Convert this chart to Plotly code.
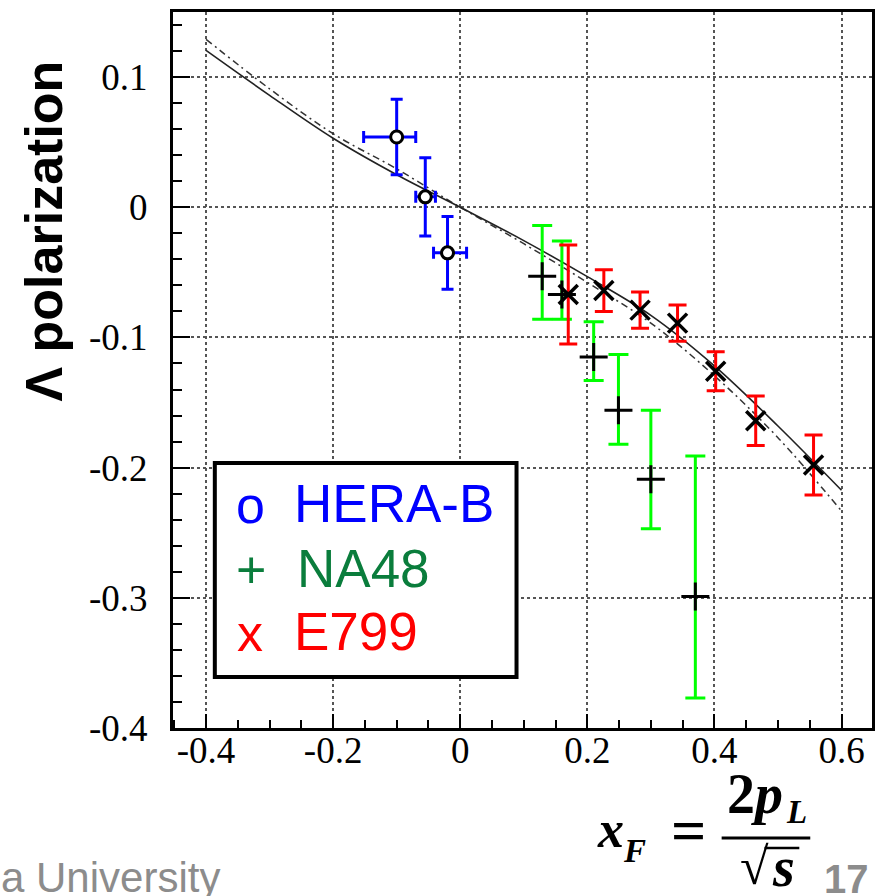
import plotly.graph_objects as go

# HERA-B points (open circles, blue error bars)
hb_x = [-0.100, -0.055, -0.020]
hb_y = [0.054, 0.008, -0.035]
hb_ex_plus = [0.030, 0.016, 0.030]
hb_ex_minus = [0.052, 0.015, 0.022]
hb_ey = [0.029, 0.030, 0.028]

# NA48 points (black +, green error bars)
na_x = [0.129, 0.160, 0.210, 0.249, 0.300, 0.370]
na_y = [-0.053, -0.067, -0.115, -0.156, -0.209, -0.299]
na_ey_plus = [0.039, 0.041, 0.027, 0.043, 0.053, 0.108]
na_ey_minus = [0.033, 0.019, 0.018, 0.026, 0.038, 0.078]

# E799 points (black x, red error bars)
e_x = [0.170, 0.226, 0.283, 0.342, 0.402, 0.465, 0.556]
e_y = [-0.067, -0.064, -0.079, -0.089, -0.126, -0.164, -0.198]
e_ey = [0.038, 0.016, 0.014, 0.014, 0.015, 0.019, 0.023]

# Model curves
curve_x = [-0.4, -0.3, -0.2, -0.1, 0.0, 0.1, 0.2, 0.3, 0.4, 0.5, 0.6]
solid_y = [0.1205, 0.086, 0.053, 0.025, 0.0, -0.0256, -0.0533, -0.083, -0.1218, -0.168, -0.2174]
dashdot_y = [0.129, 0.091, 0.0565, 0.0295, 0.0, -0.028, -0.0577, -0.089, -0.1294, -0.177, -0.2333]

# Axis ticks
x_tickvals = [-0.4, -0.2, 0.0, 0.2, 0.4, 0.6]
x_ticktext = ["-0.4", "-0.2", "0", "0.2", "0.4", "0.6"]
y_tickvals = [-0.4, -0.3, -0.2, -0.1, 0.0, 0.1]
y_ticktext = ["-0.4", "-0.3", "-0.2", "-0.1", "0", "0.1"]

W, H = 877, 896
ML, MR, MT, MB = 173, 2, 12, 168
PW, PH = W - ML - MR, H - MT - MB


def px(xp):
    return (xp - ML) / PW


def py(yp):
    return (H - MB - yp) / PH


fig = go.Figure()

fig.add_trace(go.Scatter(
    x=curve_x, y=dashdot_y, mode="lines", line_shape="spline",
    line=dict(color="#333333", width=1.5, dash="7px,4px,2px,4px"),
    hoverinfo="skip"))
fig.add_trace(go.Scatter(
    x=curve_x, y=solid_y, mode="lines", line_shape="spline",
    line=dict(color="#222222", width=1.6), hoverinfo="skip"))

fig.add_trace(go.Scatter(
    x=na_x, y=na_y, mode="markers",
    marker=dict(symbol="cross-thin", size=20, line=dict(color="black", width=3)),
    error_y=dict(type="data", symmetric=False, array=na_ey_plus, arrayminus=na_ey_minus,
                 color="#00ff00", thickness=3, width=10)))

fig.add_trace(go.Scatter(
    x=e_x, y=e_y, mode="markers",
    marker=dict(symbol="x-thin", size=19, line=dict(color="black", width=3.5)),
    error_y=dict(type="data", array=e_ey, color="#ff0000", thickness=3, width=9)))

fig.add_trace(go.Scatter(
    x=hb_x, y=hb_y, mode="markers",
    marker=dict(symbol="circle", size=12, color="white", line=dict(color="black", width=3)),
    error_y=dict(type="data", array=hb_ey, color="#0000ff", thickness=3, width=6),
    error_x=dict(type="data", symmetric=False, array=hb_ex_plus, arrayminus=hb_ex_minus,
                 color="#0000ff", thickness=3, width=6)))

axis_font = dict(family="Liberation Serif", size=37, color="black")

fig.update_xaxes(
    range=[-0.452, 0.648], tickvals=x_tickvals, ticktext=x_ticktext,
    showline=True, linecolor="black", linewidth=3, mirror=True,
    ticks="inside", ticklen=14, tickwidth=1.5, tickcolor="black",
    minor=dict(dtick=0.05, tick0=0, ticks="inside", ticklen=8, tickwidth=1.5,
               tickcolor="black", showgrid=False),
    showgrid=True, gridcolor="#555555", gridwidth=1.5, griddash="dot",
    zeroline=False, tickfont=axis_font, ticklabelstandoff=-12)

fig.update_yaxes(
    range=[-0.4, 0.15], tickvals=y_tickvals, ticktext=y_ticktext,
    showline=True, linecolor="black", linewidth=3, mirror=True,
    ticks="inside", ticklen=17, tickwidth=1.5, tickcolor="black",
    minor=dict(dtick=0.02, tick0=0, ticks="inside", ticklen=9, tickwidth=1.5,
               tickcolor="black", showgrid=False),
    showgrid=True, gridcolor="#555555", gridwidth=1.5, griddash="dot",
    zeroline=False, tickfont=axis_font, ticklabelstandoff=15)

shapes = [
    # legend box
    dict(type="rect", xref="paper", yref="paper",
         x0=px(215), x1=px(518), y0=py(677), y1=py(463),
         line=dict(color="black", width=4), fillcolor="white", layer="above"),
    # fraction bar
    dict(type="line", xref="paper", yref="paper",
         x0=px(724), x1=px(813), y0=py(838), y1=py(838),
         line=dict(color="black", width=3)),
    # radical vinculum
    dict(type="line", xref="paper", yref="paper",
         x0=px(767), x1=px(802), y0=py(848), y1=py(848),
         line=dict(color="black", width=2.5)),
]

sans = "Liberation Sans"
serif = "Liberation Serif"


def note(text, x, y, size, color="black", family=sans, xanchor="center",
         yanchor="middle", angle=0):
    return dict(text=text, x=px(x), y=py(y), xref="paper", yref="paper",
                showarrow=False, xanchor=xanchor, yanchor=yanchor,
                textangle=angle, font=dict(family=family, size=size, color=color))


annotations = [
    note("<b>Λ polarization</b>", 43, 231, 52, angle=-90),
    # legend entries
    note("o", 251, 505, 52, "#0000ff"),
    note("HERA-B", 293, 503, 53, "#0000ff", xanchor="left"),
    note("+", 251, 570, 52, "#0a7d3c"),
    note("NA48", 296, 568, 53, "#0a7d3c", xanchor="left"),
    note("x", 250, 633, 52, "#ff0000"),
    note("E799", 293, 631, 53, "#ff0000", xanchor="left"),
    # x_F = 2p_L / sqrt(s)
    note("<b><i>x</i></b>", 612, 829, 52, family=serif),
    note("<b><i>F</i></b>", 636, 851, 33, family=serif),
    note("<b>=</b>", 691, 830, 62, family=serif),
    note("<b>2<i>p</i></b>", 757, 794, 56, family=serif),
    note("<b><i>L</i></b>", 799, 812, 33, family=serif),
    note("√", 757, 866, 52, family=serif),
    note("<b><i>s</i></b>", 786, 867, 56, family=serif),
    # footer
    note("a University", -2, 877, 42, "#8c8c8c", xanchor="left"),
    note("<b>17</b>", 825, 879, 40, "#8c8c8c", xanchor="left"),
]

fig.update_layout(
    width=W, height=H, margin=dict(l=ML, r=MR, t=MT, b=MB),
    paper_bgcolor="white", plot_bgcolor="white", showlegend=False,
    shapes=shapes, annotations=annotations)

fig.write_html("out.html")
